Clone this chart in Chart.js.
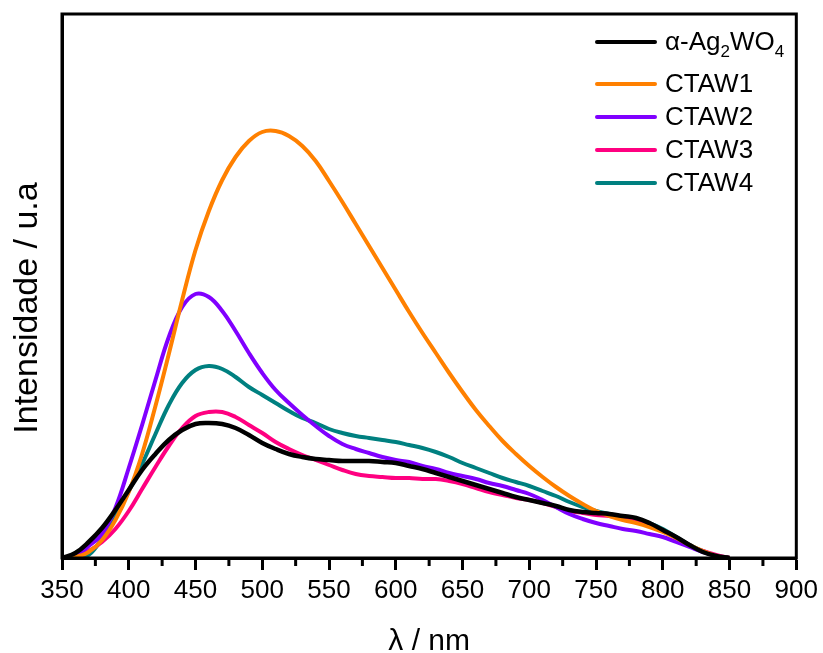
<!DOCTYPE html>
<html lang="pt">
<head>
<meta charset="UTF-8">
<title>Espectros de fotoluminescência</title>
<style>
  body { margin: 0; background: #ffffff; font-family: "Liberation Sans", Arial, sans-serif; }
  .wrap { position: relative; width: 823px; height: 653px; }
  #legend { position: absolute; left: 595px; top: 16px; }
  .row { display: flex; align-items: center; height: 33px; font-size: 26px; color: #000; }
  .row.first { height: 51px; }
  .swatch { width: 62px; height: 4px; margin-right: 8px; border-radius: 2px; }
  .row sub { font-size: 17px; vertical-align: -7px; line-height: 0; }
</style>
</head>
<body>
<div class="wrap">
  <canvas id="chart" width="823" height="653"></canvas>
  <div id="legend"></div>
</div>
<script src="https://cdn.jsdelivr.net/npm/chart.js@4.4.1/dist/chart.umd.min.js"></script>
<script>
// comprimento de onda (nm)
const wavelengths = [350, 360, 370, 380, 390, 400, 410, 420, 430, 440,
                     450, 460, 470, 480, 490, 500, 510, 520, 530, 540,
                     550, 560, 570, 580, 590, 600, 610, 620, 630, 640,
                     650, 660, 670, 680, 690, 700, 710, 720, 730, 740,
                     750, 760, 770, 780, 790, 800, 810, 820, 830, 840, 850];

const agwo4 = [0, 5, 16, 30, 48, 68, 88, 104, 118, 128,
               134, 135, 134, 130, 123, 115, 109, 104, 101, 99,
               98, 97, 97, 97, 96, 95, 92, 89, 85, 81,
               77, 73, 69, 65, 61, 58, 55, 52, 48, 46,
               45, 44, 42, 40, 35, 28, 21, 13, 6, 2, 0];

const ctaw1 = [0, 1, 6, 18, 38, 66, 104, 152, 204, 258,
               308, 347, 378, 401, 417, 426, 427, 422, 412, 397,
               377, 356, 334, 312, 290, 268, 246, 225, 205, 185,
               166, 148, 132, 117, 104, 92, 81, 71, 62, 54,
               47, 42, 38, 35, 31, 26, 20, 13, 7, 2, 0];

const ctaw2 = [0, 2, 12, 24, 50, 90, 133, 178, 221, 251,
               264, 261, 247, 227, 205, 185, 168, 155, 143, 132,
               122, 114, 109, 105, 101, 98, 96, 92, 89, 85,
               82, 79, 75, 72, 68, 64, 58, 51, 44, 39,
               35, 32, 29, 27, 24, 21, 16, 11, 6, 2, 0];

const ctaw3 = [0, 1, 7, 16, 29, 47, 69, 91, 112, 130,
               142, 146, 146, 141, 133, 125, 116, 109, 103, 98,
               93, 88, 84, 82, 81, 80, 80, 79, 79, 77,
               74, 70, 66, 63, 60, 58, 55, 51, 47, 45,
               43, 42, 40, 36, 32, 27, 20, 12, 7, 3, 0];

const ctaw4 = [0, 0, 3, 20, 43, 67, 94, 124, 153, 175,
               188, 192, 189, 181, 171, 163, 155, 147, 140, 135,
               129, 125, 122, 120, 118, 116, 113, 110, 106, 101,
               95, 90, 85, 80, 76, 72, 67, 62, 56, 51,
               47, 44, 41, 39, 35, 29, 21, 13, 7, 2, 0];

const seriesNames = ['α-Ag₂WO₄', 'CTAW1', 'CTAW2', 'CTAW3', 'CTAW4'];
const seriesColors = ['#000000', '#ff8000', '#8000ff', '#ff0080', '#008080'];
const seriesValues = [agwo4, ctaw1, ctaw2, ctaw3, ctaw4];

const xTicksMajor = [350, 400, 450, 500, 550, 600, 650, 700, 750, 800, 850, 900];
const xTicksMinor = [375, 425, 475, 525, 575, 625, 675, 725, 775, 825, 875];

const xTitle = 'λ / nm';
const yTitle = 'Intensidade / u.a';
const FONT = '"Liberation Sans", Arial, sans-serif';

// moldura, ticks menores e títulos dos eixos
const framePlugin = {
    id: 'frame',
    afterDraw(chart) {
        const { ctx, chartArea: a, scales: { x } } = chart;
        ctx.save();
        ctx.strokeStyle = '#000';
        ctx.lineWidth = 3;
        ctx.strokeRect(a.left, a.top, a.right - a.left, a.bottom - a.top);
        ctx.beginPath();
        xTicksMinor.forEach(v => {
            const px = x.getPixelForValue(v);
            ctx.moveTo(px, a.bottom);
            ctx.lineTo(px, a.bottom + 8);
        });
        ctx.stroke();

        ctx.fillStyle = '#000';
        ctx.textAlign = 'center';
        ctx.textBaseline = 'alphabetic';
        ctx.font = '30px ' + FONT;
        ctx.fillText(xTitle, (a.left + a.right) / 2, 650);
        ctx.translate(37, 308);
        ctx.rotate(-Math.PI / 2);
        ctx.font = '34px ' + FONT;
        ctx.fillText(yTitle, 0, 0);
        ctx.restore();
    }
};

const datasets = seriesNames.map((name, i) => ({
    label: name,
    data: wavelengths.map((w, j) => ({ x: w, y: seriesValues[i][j] })),
    borderColor: seriesColors[i],
    borderWidth: i === 0 ? 4.5 : 4,
    pointRadius: 0,
    fill: false,
    tension: 0.4
}));

const chart = new Chart(document.getElementById('chart'), {
    type: 'line',
    data: { datasets },
    options: {
        responsive: false,
        animation: false,
        layout: { padding: { top: 14, right: 24, left: 0, bottom: 0 } },
        plugins: { legend: { display: false }, tooltip: { enabled: false } },
        scales: {
            x: {
                type: 'linear',
                min: 350,
                max: 900,
                afterFit(s) { s.height = 95; },
                afterBuildTicks(s) { s.ticks = xTicksMajor.map(v => ({ value: v })); },
                ticks: { color: '#000', font: { family: FONT, size: 26 }, padding: 5, maxRotation: 0 },
                grid: { drawOnChartArea: false, drawTicks: true, tickLength: 12, tickWidth: 3, tickColor: '#000' },
                border: { display: true, color: '#000', width: 3 }
            },
            y: {
                min: 0,
                max: 544,
                afterFit(s) { s.width = 62; },
                ticks: { display: false },
                grid: { display: false },
                border: { display: true, color: '#000', width: 3 }
            }
        }
    },
    plugins: [framePlugin]
});

// legenda
const legend = document.getElementById('legend');
chart.data.datasets.forEach((ds, i) => {
    const row = document.createElement('div');
    row.className = i === 0 ? 'row first' : 'row';
    const sw = document.createElement('span');
    sw.className = 'swatch';
    sw.style.background = ds.borderColor;
    const txt = document.createElement('span');
    txt.innerHTML = ds.label.replace(/₂/g, '<sub>2</sub>').replace(/₄/g, '<sub>4</sub>');
    row.appendChild(sw);
    row.appendChild(txt);
    legend.appendChild(row);
});
</script>
</body>
</html>
